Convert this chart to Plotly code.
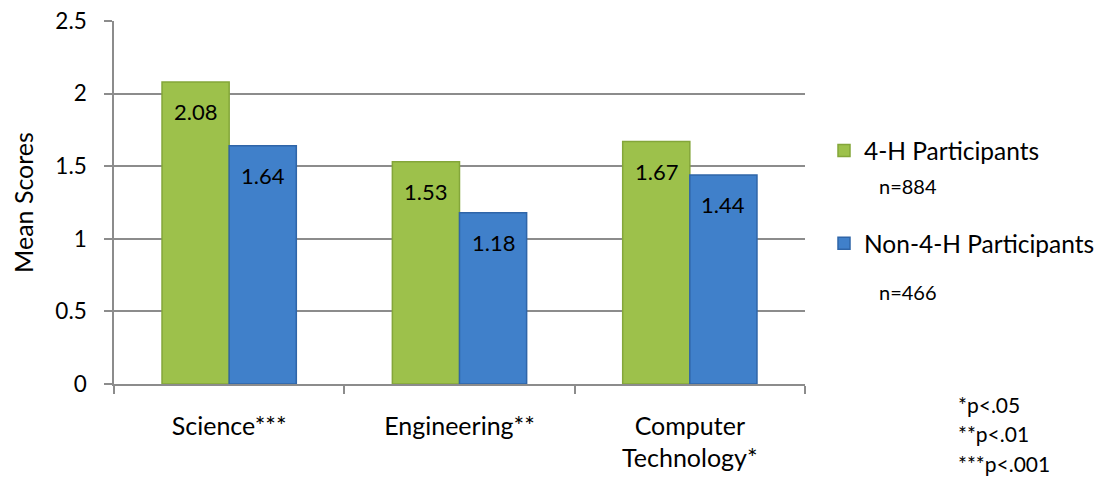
import plotly.graph_objects as go

categories = ["Science***", "Engineering**", "Computer<br>Technology*"]
series_names = ["4-H Participants", "Non-4-H Participants"]
h4_scores = [2.08, 1.53, 1.67]
non_h4_scores = [1.64, 1.18, 1.44]
sample_sizes = ["n=884", "n=466"]
footnotes = ["*p<.05", "**p<.01", "***p<.001"]
y_max = 2.5
y_step = 0.5

FONT = "Lato, Calibri, 'Open Sans', sans-serif"
GREEN = "#9DC14B"
GREEN_LINE = "#84A63A"
BLUE = "#4080CA"
BLUE_LINE = "#2F65A8"
GRID = "#8C8C8C"

# the page body adds an 8px offset; work in window pixels and compensate
OFF = 8
WIN_W, WIN_H = 1102, 477
W, H = WIN_W - OFF, WIN_H - OFF
PL, PR, PT, PB = 114, 805, 21, 384  # plot area in window pixels
L, R, T, B = PL - OFF, WIN_W - PR, PT - OFF, WIN_H - PB
pw, ph = PR - PL, PB - PT


def px_x(x):
    return (x - PL) / pw


def px_y(y):
    return (PB - y) / ph


fig = go.Figure()
fig.add_trace(go.Bar(
    x=categories, y=h4_scores, name=series_names[0], legendgroup="a",
    marker=dict(color=GREEN, line=dict(color=GREEN_LINE, width=1.5)),
))
fig.add_trace(go.Bar(
    x=categories, y=non_h4_scores, name=series_names[1], legendgroup="b",
    marker=dict(color=BLUE, line=dict(color=BLUE_LINE, width=1.5)),
))

bargap = 0.417
cat_px = pw / len(categories)
bar_px = cat_px * (1 - bargap) / 2

annotations = []
for vals, sign in ((h4_scores, -1), (non_h4_scores, 1)):
    for c, v in zip(categories, vals):
        annotations.append(dict(
            x=c, y=v, xref="x", yref="y", text=f"{v:.2f}", showarrow=False,
            xshift=sign * bar_px / 2, yshift=-30, yanchor="middle",
            font=dict(family=FONT, size=22, color="#000000"),
        ))

for txt, yy in zip(sample_sizes, (186, 292)):
    annotations.append(dict(x=px_x(877), y=px_y(yy), xref="paper", yref="paper", text=txt,
                            showarrow=False, xanchor="left", yanchor="middle",
                            font=dict(family=FONT, size=20, color="#000000")))
for i, t in enumerate(footnotes):
    annotations.append(dict(x=px_x(956), y=px_y(404 + i * 29.5), xref="paper", yref="paper",
                            text=t, showarrow=False, xanchor="left", yanchor="middle",
                            font=dict(family=FONT, size=21, color="#000000")))

fig.update_layout(
    width=W, height=H,
    margin=dict(l=L, r=R, t=T, b=B, autoexpand=False),
    paper_bgcolor="white", plot_bgcolor="white",
    barmode="group", bargap=bargap, bargroupgap=0,
    font=dict(family=FONT, size=24, color="#000000"),
    annotations=annotations,
    legend=dict(
        x=px_x(824), xanchor="left",
        y=px_y(128), yanchor="top",
        font=dict(family=FONT, size=24.5, color="#000000"),
        tracegroupgap=58, traceorder="grouped",
        bgcolor="rgba(0,0,0,0)", itemwidth=30,
    ),
    showlegend=True,
)
fig.update_xaxes(
    type="category", showgrid=False, showline=True, linecolor=GRID, linewidth=1.5,
    ticks="outside", tickson="boundaries", ticklen=8, tickcolor=GRID, tickwidth=1.5,
    ticklabelstandoff=19, tickfont=dict(family=FONT, size=25), automargin=False,
)
fig.update_yaxes(
    range=[0, y_max], tickmode="linear", tick0=0, dtick=y_step,
    showgrid=True, gridcolor=GRID, gridwidth=1.5,
    showline=True, linecolor=GRID, linewidth=1.5,
    ticks="outside", ticklen=8, tickcolor=GRID, tickwidth=1.5,
    ticklabelstandoff=13, ticklabeloverflow="allow",
    tickfont=dict(family=FONT, size=22.5), zeroline=False, automargin=False,
    title=dict(text="Mean Scores", font=dict(family=FONT, size=25), standoff=15),
)

fig.write_html("out.html")
